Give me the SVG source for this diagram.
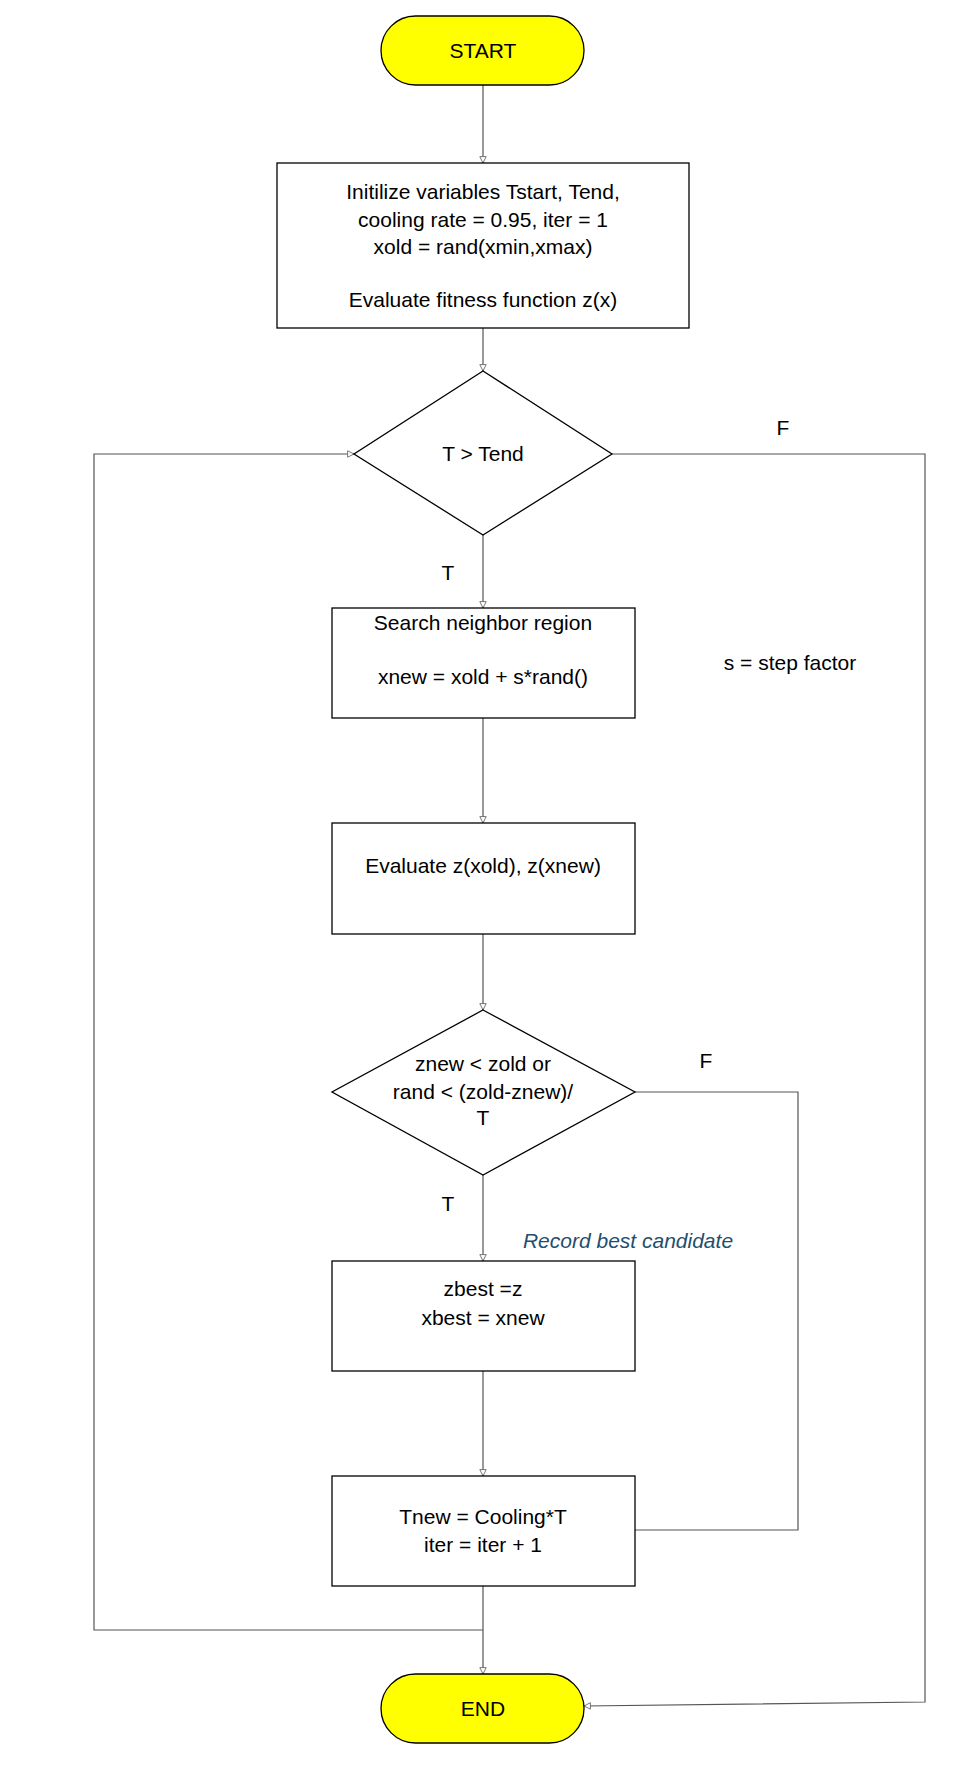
<svg xmlns="http://www.w3.org/2000/svg" width="980" height="1777" viewBox="0 0 980 1777">
<defs>
<marker id="ar" viewBox="0 0 10 10" refX="9" refY="5" markerWidth="8" markerHeight="8" orient="auto" markerUnits="userSpaceOnUse">
<path d="M1,1 L9,5 L1,9 Z" fill="#fff" stroke="#555" stroke-width="1"/>
</marker>
<style>
text{font-family:"Liberation Sans",Arial,sans-serif;font-size:21px;fill:#000;text-anchor:middle}
.n{fill:#fff;stroke:#000;stroke-width:1.3}
.t{fill:#ffff00;stroke:#000;stroke-width:1.3}
.c{fill:none;stroke:#555;stroke-width:1.2}
.l{text-anchor:start}
</style>
</defs>
<rect width="980" height="1777" fill="#fff"/>
<g id="connectors">
<path class="c" d="M483,85 V163" marker-end="url(#ar)"/>
<path class="c" d="M483,328 V371" marker-end="url(#ar)"/>
<path class="c" d="M483,535 V608" marker-end="url(#ar)"/>
<path class="c" d="M483,718 V823" marker-end="url(#ar)"/>
<path class="c" d="M483,934 V1010" marker-end="url(#ar)"/>
<path class="c" d="M483,1175 V1261" marker-end="url(#ar)"/>
<path class="c" d="M483,1371 V1476" marker-end="url(#ar)"/>
<path class="c" d="M483,1586 V1674" marker-end="url(#ar)"/>
<path class="c" d="M483,1630 H94 V454 H354" marker-end="url(#ar)"/>
<path class="c" d="M612,454 H925 V1702 L584,1706" marker-end="url(#ar)"/>
<path class="c" d="M635,1092 H798 V1530 H635"/>
</g>
<g id="start"><rect class="t" x="381" y="16" width="203" height="69" rx="34.5"/><text x="483" y="58">START</text></g>
<g id="init"><rect class="n" x="277" y="163" width="412" height="165"/>
<text x="483" y="199">Initilize variables Tstart, Tend,</text>
<text x="483" y="227">cooling rate = 0.95, iter = 1</text>
<text x="483" y="254">xold = rand(xmin,xmax)</text>
<text x="483" y="307">Evaluate fitness function z(x)</text></g>
<g id="cond1"><polygon class="n" points="483,371 612,454 483,535 354,454"/><text x="483" y="461">T &gt; Tend</text></g>
<g id="search"><rect class="n" x="332" y="608" width="303" height="110"/>
<text x="483" y="630">Search neighbor region</text>
<text x="483" y="684">xnew = xold + s*rand()</text></g>
<g id="eval"><rect class="n" x="332" y="823" width="303" height="111"/><text x="483" y="873">Evaluate z(xold), z(xnew)</text></g>
<g id="cond2"><polygon class="n" points="483,1010 635,1092 483,1175 332,1092"/>
<text x="483" y="1071">znew &lt; zold or</text>
<text x="483" y="1099">rand &lt; (zold-znew)/</text>
<text x="483" y="1125">T</text></g>
<g id="best"><rect class="n" x="332" y="1261" width="303" height="110"/>
<text x="483" y="1296">zbest =z</text><text x="483" y="1325">xbest = xnew</text></g>
<g id="cool"><rect class="n" x="332" y="1476" width="303" height="110"/>
<text x="483" y="1524">Tnew = Cooling*T</text><text x="483" y="1552">iter = iter + 1</text></g>
<g id="end"><rect class="t" x="381" y="1674" width="203" height="69" rx="34.5"/><text x="483" y="1716">END</text></g>
<g id="labels">
<text x="783" y="435">F</text>
<text x="448" y="580">T</text>
<text x="790" y="670">s = step factor</text>
<text x="706" y="1068">F</text>
<text x="448" y="1211">T</text>
<text x="628" y="1248" style="font-style:italic;fill:#1f4e6e">Record best candidate</text>
</g>
</svg>
